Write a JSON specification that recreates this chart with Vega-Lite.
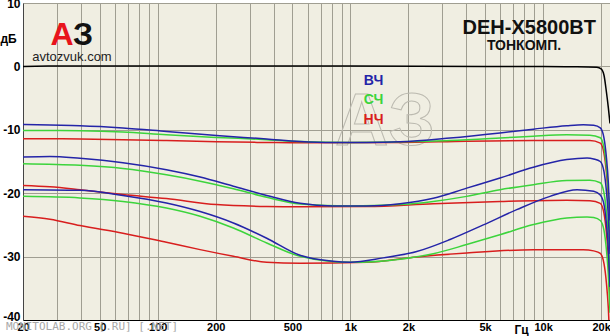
{
  "$schema": "https://vega.github.io/schema/vega-lite/v6.json",
  "width": 587,
  "height": 317,
  "autosize": "none",
  "padding": {"left": 23, "top": 3, "right": 0, "bottom": 16},
  "background": "white",
  "config": {
    "view": {"fill": "#f0eee2", "stroke": null},
    "font": "Liberation Sans"
  },
  "datasets": {
    "curves": [
      {"s": "R3", "f": 20, "db": -23.65}, {"s": "R3", "f": 27.6, "db": -24.1}, {"s": "R3", "f": 39.5, "db": -25.1}, {"s": "R3", "f": 66, "db": -26.3}, {"s": "R3", "f": 111, "db": -27.75}, {"s": "R3", "f": 166, "db": -28.9}, {"s": "R3", "f": 247, "db": -29.95}, {"s": "R3", "f": 368, "db": -30.9}, {"s": "R3", "f": 548, "db": -31.05}, {"s": "R3", "f": 1215, "db": -30.9}, {"s": "R3", "f": 2209, "db": -30.05}, {"s": "R3", "f": 4012, "db": -29.45}, {"s": "R3", "f": 8903, "db": -28.9}, {"s": "R3", "f": 16170, "db": -28.9}, {"s": "R3", "f": 18300, "db": -29.1}, {"s": "R3", "f": 19800, "db": -29.5}, {"s": "R3", "f": 20700, "db": -31.1}, {"s": "R3", "f": 21300, "db": -34.1}, {"s": "R3", "f": 21800, "db": -38.1}, {"s": "R3", "f": 22240, "db": -44},
      {"s": "R2", "f": 20, "db": -18.8}, {"s": "R2", "f": 27.6, "db": -19.0}, {"s": "R2", "f": 39.5, "db": -19.45}, {"s": "R2", "f": 66, "db": -20.2}, {"s": "R2", "f": 111, "db": -20.85}, {"s": "R2", "f": 202, "db": -21.8}, {"s": "R2", "f": 368, "db": -22.1}, {"s": "R2", "f": 548, "db": -22.15}, {"s": "R2", "f": 1215, "db": -22.1}, {"s": "R2", "f": 2691, "db": -21.65}, {"s": "R2", "f": 5975, "db": -21.3}, {"s": "R2", "f": 13260, "db": -21.1}, {"s": "R2", "f": 17500, "db": -21.2}, {"s": "R2", "f": 19800, "db": -21.6}, {"s": "R2", "f": 20700, "db": -23.2}, {"s": "R2", "f": 21300, "db": -26.2}, {"s": "R2", "f": 21800, "db": -30.2}, {"s": "R2", "f": 22240, "db": -36.2},
      {"s": "R1", "f": 20, "db": -11.4}, {"s": "R1", "f": 39.5, "db": -11.45}, {"s": "R1", "f": 66, "db": -11.55}, {"s": "R1", "f": 111, "db": -11.7}, {"s": "R1", "f": 202, "db": -11.9}, {"s": "R1", "f": 368, "db": -12.0}, {"s": "R1", "f": 548, "db": -12.05}, {"s": "R1", "f": 1809, "db": -12.0}, {"s": "R1", "f": 4012, "db": -11.8}, {"s": "R1", "f": 8903, "db": -11.7}, {"s": "R1", "f": 17500, "db": -11.7}, {"s": "R1", "f": 19800, "db": -12.1}, {"s": "R1", "f": 20700, "db": -13.7}, {"s": "R1", "f": 21300, "db": -16.7}, {"s": "R1", "f": 21800, "db": -20.7}, {"s": "R1", "f": 22240, "db": -26.7},
      {"s": "G3", "f": 20, "db": -20.5}, {"s": "G3", "f": 39.5, "db": -20.75}, {"s": "G3", "f": 66, "db": -21.3}, {"s": "G3", "f": 111, "db": -22.35}, {"s": "G3", "f": 166, "db": -23.65}, {"s": "G3", "f": 247, "db": -25.5}, {"s": "G3", "f": 368, "db": -27.85}, {"s": "G3", "f": 548, "db": -29.95}, {"s": "G3", "f": 995, "db": -30.9}, {"s": "G3", "f": 1809, "db": -30.4}, {"s": "G3", "f": 2691, "db": -29.55}, {"s": "G3", "f": 4012, "db": -28.1}, {"s": "G3", "f": 5975, "db": -26.55}, {"s": "G3", "f": 8903, "db": -24.95}, {"s": "G3", "f": 13260, "db": -23.9}, {"s": "G3", "f": 16900, "db": -23.75}, {"s": "G3", "f": 18300, "db": -23.85}, {"s": "G3", "f": 19800, "db": -24.3}, {"s": "G3", "f": 20700, "db": -25.85}, {"s": "G3", "f": 21300, "db": -28.85}, {"s": "G3", "f": 21800, "db": -32.85}, {"s": "G3", "f": 22240, "db": -38.85},
      {"s": "G2", "f": 20, "db": -15.35}, {"s": "G2", "f": 39.5, "db": -15.6}, {"s": "G2", "f": 66, "db": -16.1}, {"s": "G2", "f": 111, "db": -17.1}, {"s": "G2", "f": 166, "db": -18.1}, {"s": "G2", "f": 247, "db": -19.3}, {"s": "G2", "f": 368, "db": -20.65}, {"s": "G2", "f": 548, "db": -21.7}, {"s": "G2", "f": 995, "db": -22.0}, {"s": "G2", "f": 1809, "db": -21.8}, {"s": "G2", "f": 2691, "db": -21.3}, {"s": "G2", "f": 4012, "db": -20.5}, {"s": "G2", "f": 5975, "db": -19.45}, {"s": "G2", "f": 8903, "db": -18.65}, {"s": "G2", "f": 13260, "db": -18.0}, {"s": "G2", "f": 17500, "db": -17.95}, {"s": "G2", "f": 19800, "db": -18.35}, {"s": "G2", "f": 20700, "db": -19.95}, {"s": "G2", "f": 21300, "db": -22.95}, {"s": "G2", "f": 21800, "db": -26.95}, {"s": "G2", "f": 22240, "db": -32.95},
      {"s": "G1", "f": 20, "db": -10.1}, {"s": "G1", "f": 39.5, "db": -10.15}, {"s": "G1", "f": 66, "db": -10.35}, {"s": "G1", "f": 111, "db": -10.8}, {"s": "G1", "f": 202, "db": -11.2}, {"s": "G1", "f": 368, "db": -11.55}, {"s": "G1", "f": 548, "db": -11.85}, {"s": "G1", "f": 995, "db": -12.0}, {"s": "G1", "f": 1809, "db": -11.9}, {"s": "G1", "f": 3289, "db": -11.7}, {"s": "G1", "f": 5975, "db": -11.3}, {"s": "G1", "f": 8903, "db": -11.0}, {"s": "G1", "f": 13260, "db": -10.8}, {"s": "G1", "f": 17500, "db": -10.85}, {"s": "G1", "f": 19800, "db": -11.25}, {"s": "G1", "f": 20700, "db": -12.85}, {"s": "G1", "f": 21300, "db": -15.85}, {"s": "G1", "f": 21800, "db": -19.85}, {"s": "G1", "f": 22240, "db": -25.85},
      {"s": "B3", "f": 20, "db": -19.45}, {"s": "B3", "f": 39.5, "db": -19.55}, {"s": "B3", "f": 66, "db": -20.35}, {"s": "B3", "f": 111, "db": -21.55}, {"s": "B3", "f": 166, "db": -22.9}, {"s": "B3", "f": 247, "db": -24.7}, {"s": "B3", "f": 368, "db": -27.1}, {"s": "B3", "f": 548, "db": -29.8}, {"s": "B3", "f": 812, "db": -30.75}, {"s": "B3", "f": 995, "db": -30.9}, {"s": "B3", "f": 1483, "db": -30.2}, {"s": "B3", "f": 2209, "db": -29.2}, {"s": "B3", "f": 3289, "db": -27.3}, {"s": "B3", "f": 4895, "db": -25.0}, {"s": "B3", "f": 7295, "db": -22.6}, {"s": "B3", "f": 10860, "db": -20.5}, {"s": "B3", "f": 15000, "db": -19.45}, {"s": "B3", "f": 18300, "db": -19.7}, {"s": "B3", "f": 19800, "db": -20.3}, {"s": "B3", "f": 20700, "db": -21.8}, {"s": "B3", "f": 21300, "db": -24.8}, {"s": "B3", "f": 21800, "db": -28.8}, {"s": "B3", "f": 22240, "db": -34.8},
      {"s": "B2", "f": 20, "db": -14.3}, {"s": "B2", "f": 27.6, "db": -14.2}, {"s": "B2", "f": 39.5, "db": -14.5}, {"s": "B2", "f": 66, "db": -15.2}, {"s": "B2", "f": 111, "db": -16.3}, {"s": "B2", "f": 166, "db": -17.45}, {"s": "B2", "f": 247, "db": -18.9}, {"s": "B2", "f": 368, "db": -20.35}, {"s": "B2", "f": 548, "db": -21.6}, {"s": "B2", "f": 812, "db": -22.0}, {"s": "B2", "f": 1215, "db": -22.0}, {"s": "B2", "f": 1809, "db": -21.65}, {"s": "B2", "f": 2691, "db": -20.8}, {"s": "B2", "f": 4012, "db": -19.2}, {"s": "B2", "f": 5975, "db": -17.6}, {"s": "B2", "f": 8903, "db": -15.9}, {"s": "B2", "f": 13260, "db": -14.7}, {"s": "B2", "f": 16900, "db": -14.45}, {"s": "B2", "f": 18300, "db": -14.6}, {"s": "B2", "f": 19800, "db": -15.0}, {"s": "B2", "f": 20700, "db": -16.6}, {"s": "B2", "f": 21300, "db": -19.6}, {"s": "B2", "f": 21800, "db": -23.6}, {"s": "B2", "f": 22240, "db": -29.6},
      {"s": "B1", "f": 20, "db": -9.15}, {"s": "B1", "f": 27.6, "db": -9.25}, {"s": "B1", "f": 39.5, "db": -9.35}, {"s": "B1", "f": 66, "db": -9.7}, {"s": "B1", "f": 111, "db": -10.25}, {"s": "B1", "f": 202, "db": -10.9}, {"s": "B1", "f": 368, "db": -11.45}, {"s": "B1", "f": 548, "db": -11.85}, {"s": "B1", "f": 812, "db": -12.0}, {"s": "B1", "f": 1215, "db": -12.0}, {"s": "B1", "f": 1809, "db": -11.9}, {"s": "B1", "f": 3289, "db": -11.3}, {"s": "B1", "f": 5975, "db": -10.5}, {"s": "B1", "f": 8903, "db": -9.9}, {"s": "B1", "f": 13260, "db": -9.35}, {"s": "B1", "f": 16170, "db": -9.2}, {"s": "B1", "f": 18300, "db": -9.3}, {"s": "B1", "f": 19800, "db": -9.7}, {"s": "B1", "f": 20700, "db": -11.3}, {"s": "B1", "f": 21300, "db": -14.3}, {"s": "B1", "f": 21800, "db": -18.3}, {"s": "B1", "f": 22240, "db": -24.3},
      {"s": "K", "f": 20, "db": 0}, {"s": "K", "f": 30, "db": 0.05}, {"s": "K", "f": 100, "db": 0.05}, {"s": "K", "f": 1000, "db": 0.05}, {"s": "K", "f": 5000, "db": 0}, {"s": "K", "f": 10000, "db": -0.03}, {"s": "K", "f": 15000, "db": -0.06}, {"s": "K", "f": 19000, "db": -0.15}, {"s": "K", "f": 20000, "db": -0.4}, {"s": "K", "f": 20700, "db": -1.4}, {"s": "K", "f": 21300, "db": -4}, {"s": "K", "f": 21800, "db": -6.5}, {"s": "K", "f": 22240, "db": -9}
    ],
    "legend": [
      {"s": "B1", "f": 1318, "db": -2.37, "t": "ВЧ"},
      {"s": "G1", "f": 1318, "db": -5.25, "t": "СЧ"},
      {"s": "R1", "f": 1318, "db": -8.4, "t": "НЧ"}
    ]
  },
  "encoding": {
    "x": {
      "field": "f", "type": "quantitative",
      "scale": {"type": "log", "domain": [20, 22240], "nice": false},
      "axis": {
        "values": [20, 30, 40, 50, 60, 70, 80, 90, 100, 200, 300, 400, 500, 600, 700, 800, 900, 1000, 2000, 3000, 4000, 5000, 6000, 7000, 8000, 9000, 10000, 20000],
        "labelExpr": "indexof([20,50,100,200,500], datum.value) >= 0 ? '' + datum.value : (indexof([1000,2000,5000,10000,20000], datum.value) >= 0 ? (datum.value/1000) + 'k' : '')",
        "grid": true, "gridColor": "#a09e92", "gridWidth": 1, "gridOpacity": 1,
        "ticks": false, "domainColor": "#000", "domainWidth": 1,
        "labelFontWeight": "bold", "labelFontSize": 11, "labelColor": "#000", "labelPadding": 1,
        "labelFlush": false, "labelOverlap": false, "labelBound": false,
        "title": "Гц", "titleX": 498, "titleY": 9, "titleBaseline": "middle", "titleAlign": "center",
        "titleFontSize": 12, "titleFontWeight": "bold", "titleColor": "#000"
      }
    },
    "y": {
      "field": "db", "type": "quantitative",
      "scale": {"domain": [-40, 10], "nice": false, "zero": false},
      "axis": {
        "values": [-40, -30, -20, -10, 0, 10],
        "labelExpr": "datum.value < 0 ? '-' + (-datum.value) : '' + datum.value",
        "grid": true, "gridColor": "#a09e92", "gridWidth": 1, "gridOpacity": 1,
        "ticks": false, "domainColor": "#444", "domainWidth": 1,
        "labelFontWeight": "bold", "labelFontSize": 12, "labelColor": "#000", "labelPadding": 3,
        "labelFlush": false, "labelOverlap": false,
        "labelBaseline": {"condition": {"test": "datum.value == -40", "value": "alphabetic"}, "value": "middle"},
        "title": "дБ", "titleAngle": 0, "titleX": -23, "titleY": 35.5, "titleAlign": "left", "titleBaseline": "middle",
        "titleFontSize": 12, "titleFontWeight": "bold", "titleColor": "#000"
      }
    }
  },
  "layer": [
    {
      "data": {"values": [{"f": 832, "db": -3.2, "t": "АЗ"}]},
      "mark": {"type": "text", "font": "Liberation Sans", "fontSize": 74, "fontWeight": "bold", "fill": "transparent", "stroke": "#bcbab0", "strokeWidth": 1, "align": "left", "baseline": "top"},
      "encoding": {"text": {"field": "t"}}
    },
    {
      "data": {"name": "curves"},
      "mark": {"type": "line", "strokeWidth": 1.5, "interpolate": "monotone", "clip": true},
      "encoding": {
        "color": {
          "field": "s", "type": "nominal", "legend": null,
          "scale": {
            "domain": ["R3", "R2", "R1", "G3", "G2", "G1", "B3", "B2", "B1", "K"],
            "range": ["#d81e1e", "#d81e1e", "#d81e1e", "#3cd43c", "#3cd43c", "#3cd43c", "#2424a8", "#2424a8", "#2424a8", "#000000"]
          }
        }
      }
    },
    {
      "data": {"name": "legend"},
      "mark": {"type": "text", "font": "Liberation Sans", "fontSize": 14, "fontWeight": "bold", "align": "center", "baseline": "middle"},
      "encoding": {"text": {"field": "t"}, "color": {"field": "s", "type": "nominal", "legend": null}}
    },
    {
      "data": {"values": [{"f": 18800, "db": 6.1, "t": "DEH-X5800BT"}]},
      "mark": {"type": "text", "font": "Liberation Sans", "fontSize": 20, "fontWeight": "bold", "align": "right", "baseline": "middle", "fill": "#111"},
      "encoding": {"text": {"field": "t"}}
    },
    {
      "data": {"values": [{"f": 7960, "db": 3.26, "t": "ТОНКОМП."}]},
      "mark": {"type": "text", "font": "Liberation Sans", "fontSize": 14, "fontWeight": "bold", "align": "center", "baseline": "middle", "fill": "#111"},
      "encoding": {"text": {"field": "t"}}
    },
    {
      "data": {"values": [{"f": 31.9, "db": 5.0, "t": "А"}]},
      "mark": {"type": "text", "font": "Liberation Sans", "fontSize": 32, "fontWeight": "bold", "align": "center", "baseline": "middle", "fill": "#e8141c"},
      "encoding": {"text": {"field": "t"}}
    },
    {
      "data": {"values": [{"f": 41, "db": 5.0, "t": "З"}]},
      "mark": {"type": "text", "font": "Liberation Sans", "fontSize": 32, "fontWeight": "bold", "align": "center", "baseline": "middle", "fill": "#111"},
      "encoding": {"text": {"field": "t"}}
    },
    {
      "data": {"values": [{"f": 35.9, "db": 1.5, "t": "avtozvuk.com"}]},
      "mark": {"type": "text", "font": "Liberation Sans", "fontSize": 13, "align": "center", "baseline": "middle", "fill": "#222"},
      "encoding": {"text": {"field": "t"}}
    },
    {
      "data": {"values": [{"f": 45.6, "db": -41.1, "t": "MONITOLAB.ORG [.RU] [.NET]"}]},
      "mark": {"type": "text", "font": "DejaVu Sans Mono", "fontSize": 11, "align": "center", "baseline": "middle", "fill": "#a8a8a8"},
      "encoding": {"text": {"field": "t"}}
    }
  ]
}
